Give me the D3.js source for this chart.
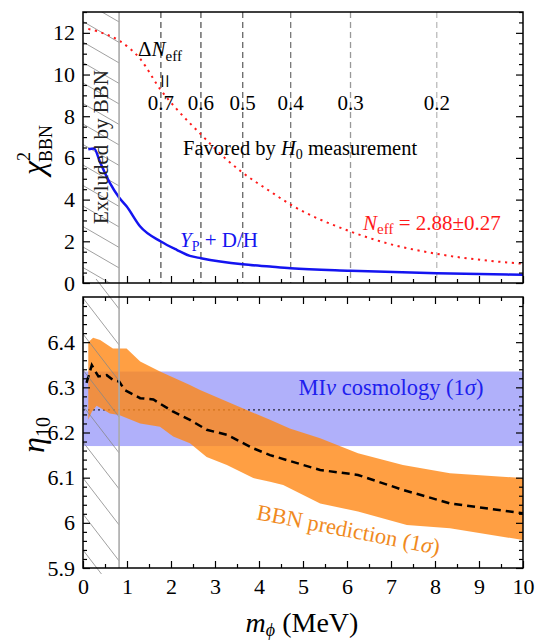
<!DOCTYPE html>
<html>
<head>
<meta charset="utf-8">
<script src="https://cdn.jsdelivr.net/npm/d3@7"></script>
<style>
  body { margin: 0; background: #fff; }
  svg text { font-family: "Liberation Serif", "DejaVu Serif", "Times New Roman", serif; }
</style>
</head>
<body>
<div id="graph"></div>
<script>
// data
var mChi = [0.12, 0.25, 0.39, 0.61, 0.82, 0.99, 1.3, 1.77, 2.13, 2.43, 2.68, 3.63, 4.25, 4.72, 6.08, 8.04, 10];
var chiYD = [6.42, 6.45, 5.78, 4.8, 4.1, 3.68, 2.71, 1.99, 1.59, 1.3, 1.19, 0.9, 0.79, 0.71, 0.59, 0.47, 0.39];

var mNeff = [0.12, 0.39, 0.82, 1.3, 1.77, 2.13, 2.68, 3.26, 3.63, 4.25, 4.72, 6.08, 6.9, 8.04, 10];
var chiNeff = [12.19, 12.03, 11.63, 10.75, 9.25, 8.34, 7.13, 5.93, 5.29, 4.4, 3.76, 2.47, 1.91, 1.4, 0.92];

var mDN = [1.77, 2.68, 3.63, 4.72, 6.08, 8.04];
var dNLabels = ["0.7", "0.6", "0.5", "0.4", "0.3", "0.2"];
var dNColors = ["#555", "#555", "#666", "#777", "#999", "#bbb"];

var mExcl = 0.82;

var mUp = [0.12, 0.23, 0.39, 0.68, 0.99, 1.3, 1.75, 2.43, 2.66, 4.25, 4.7, 5.39, 6.25, 7.27, 8.34, 10];
var etaUp = [6.40, 6.41, 6.405, 6.386, 6.386, 6.357, 6.335, 6.305, 6.294, 6.228, 6.209, 6.187, 6.154, 6.128, 6.11, 6.099];
var mLo = [0.12, 0.2, 0.31, 0.61, 0.82, 1.3, 1.75, 2.05, 2.43, 2.81, 3.27, 3.87, 4.25, 4.55, 5.39, 6.25, 7.36, 8.34, 10];
var etaLo = [6.228, 6.246, 6.259, 6.242, 6.239, 6.22, 6.213, 6.191, 6.176, 6.146, 6.128, 6.099, 6.091, 6.084, 6.043, 6.025, 5.995, 5.988, 5.962];

var mMid = [0.08, 0.2, 0.35, 0.54, 0.69, 0.82, 0.95, 1.3, 1.6, 2.05, 2.43, 2.81, 3.27, 3.87, 4.25, 5.39, 6.25, 7.27, 8.34, 10];
var etaMid = [6.31, 6.349, 6.324, 6.327, 6.316, 6.313, 6.294, 6.276, 6.273, 6.246, 6.228, 6.206, 6.195, 6.165, 6.15, 6.117, 6.106, 6.073, 6.043, 6.021];

var cosmoLo = 6.17, cosmoHi = 6.335, cosmoMid = 6.25;

var chiTicks = [0, 2, 4, 6, 8, 10, 12];
var etaTicks = [5.9, 6.0, 6.1, 6.2, 6.3, 6.4];
var mTicks = [0, 1, 2, 3, 4, 5, 6, 7, 8, 9, 10];

// layout
const width = 539;
const height = 644;
var left = 83, right = 523;
var top1 = 12, bot1 = 283;
var top2 = 297, bot2 = 568;
var serif = "'Liberation Serif', 'DejaVu Serif', serif";

var svg = d3.select("#graph").append("svg")
    .attr("width", width).attr("height", height)
    .attr("font-family", serif);

var x = d3.scaleLinear().domain([0, 10]).range([left, right]);
var y1 = d3.scaleLinear().domain([0, 13]).range([bot1, top1]);
var y2 = d3.scaleLinear().domain([5.9, 6.5]).range([bot2, top2]);

var defs = svg.append("defs");
defs.append("clipPath").attr("id", "clip1").append("rect")
    .attr("x", left).attr("y", top1).attr("width", right - left).attr("height", bot1 - top1);
defs.append("clipPath").attr("id", "clip2").append("rect")
    .attr("x", left).attr("y", top2).attr("width", right - left).attr("height", bot2 - top2);
defs.append("clipPath").attr("id", "hatch1").append("rect")
    .attr("x", left).attr("y", top1).attr("width", x(mExcl) - left).attr("height", bot1 - top1);
defs.append("clipPath").attr("id", "hatch2").append("rect")
    .attr("x", left).attr("y", 279).attr("width", x(mExcl) - left).attr("height", bot2 + 6 - 279);

// ---------- top panel ----------
var g1 = svg.append("g");

// hatching
var h1 = g1.append("g").attr("clip-path", "url(#hatch1)");
d3.range(-40, 300, 20.5).forEach(function (y0) {
    h1.append("line")
        .attr("x1", left).attr("y1", y0)
        .attr("x2", x(mExcl)).attr("y2", y0 + 0.58 * (x(mExcl) - left))
        .attr("stroke", "#888").attr("stroke-width", 0.8);
});

var p1 = g1.append("g").attr("clip-path", "url(#clip1)");

p1.selectAll(".dn")
    .data(mDN)
    .enter()
    .append("line")
    .attr("x1", function (d) { return x(d); })
    .attr("x2", function (d) { return x(d); })
    .attr("y1", top1).attr("y2", bot1)
    .attr("stroke", function (d, i) { return dNColors[i]; })
    .attr("stroke-width", 1.3)
    .attr("stroke-dasharray", "6,4");

var lineChi = d3.line()
    .x(function (d) { return x(d[0]); })
    .y(function (d) { return y1(d[1]); })
    .curve(d3.curveMonotoneX);

p1.append("path")
    .datum(d3.zip(mNeff, chiNeff))
    .attr("d", lineChi)
    .attr("fill", "none")
    .attr("stroke", "#ff1a1a")
    .attr("stroke-width", 2)
    .attr("stroke-dasharray", "2.2,4.6");

p1.append("path")
    .datum(d3.zip(mChi, chiYD))
    .attr("d", lineChi)
    .attr("fill", "none")
    .attr("stroke", "#1414f0")
    .attr("stroke-width", 2.5);

// ---------- bottom panel ----------
var g2 = svg.append("g");

var p2 = g2.append("g").attr("clip-path", "url(#clip2)");

p2.append("rect")
    .attr("x", x(0)).attr("width", x(10) - x(0))
    .attr("y", y2(cosmoHi)).attr("height", y2(cosmoLo) - y2(cosmoHi))
    .attr("fill", "#b0b0fa");

p2.append("line")
    .attr("x1", x(0)).attr("x2", x(10))
    .attr("y1", y2(cosmoMid)).attr("y2", y2(cosmoMid))
    .attr("stroke", "#000").attr("stroke-width", 1)
    .attr("stroke-dasharray", "2,3");

var lineEta = d3.line()
    .x(function (d) { return x(d[0]); })
    .y(function (d) { return y2(d[1]); });

var band = d3.zip(mUp, etaUp).concat(d3.zip(mLo, etaLo).reverse());
p2.append("path")
    .datum(band)
    .attr("d", function (d) { return lineEta(d) + "Z"; })
    .attr("fill", "rgb(255,135,20)")
    .attr("fill-opacity", 0.8);

p2.append("path")
    .datum(d3.zip(mMid, etaMid))
    .attr("d", lineEta)
    .attr("fill", "none")
    .attr("stroke", "#000")
    .attr("stroke-width", 2.5)
    .attr("stroke-dasharray", "8,5");

// hatching bottom
var h2 = svg.append("g").attr("clip-path", "url(#hatch2)");
d3.range(226, 600, 36).forEach(function (y0) {
    h2.append("line")
        .attr("x1", left).attr("y1", y0)
        .attr("x2", x(mExcl)).attr("y2", y0 + 1.3 * (x(mExcl) - left))
        .attr("stroke", "#888").attr("stroke-width", 0.8);
});

// exclusion edge
svg.append("line")
    .attr("x1", x(mExcl)).attr("x2", x(mExcl))
    .attr("y1", top1).attr("y2", bot2)
    .attr("stroke", "#aaa").attr("stroke-width", 1.6);

// ---------- axes ----------
function frame(yt, yb) {
    svg.append("rect")
        .attr("x", left).attr("y", yt)
        .attr("width", right - left).attr("height", yb - yt)
        .attr("fill", "none").attr("stroke", "#000").attr("stroke-width", 1.5);
}

function axes(ys, yt, yb, majors, minors, fmt, topPanel) {
    var ax = [];
    ax.push(svg.append("g").attr("transform", "translate(" + left + ",0)")
        .call(d3.axisLeft(ys).tickValues(majors).tickSize(-7).tickPadding(8).tickFormat(fmt)));
    ax.push(svg.append("g").attr("transform", "translate(" + left + ",0)")
        .call(d3.axisLeft(ys).tickValues(minors).tickSize(-4).tickFormat("")));
    ax.push(svg.append("g").attr("transform", "translate(" + right + ",0)")
        .call(d3.axisRight(ys).tickValues(majors).tickSize(-7).tickFormat("")));
    ax.push(svg.append("g").attr("transform", "translate(" + right + ",0)")
        .call(d3.axisRight(ys).tickValues(minors).tickSize(-4).tickFormat("")));
    ax.push(svg.append("g").attr("transform", "translate(0," + yb + ")")
        .call(d3.axisBottom(x).tickValues(mTicks).tickSize(-7).tickPadding(10)
            .tickFormat(topPanel ? "" : d3.format("d"))));
    ax.push(svg.append("g").attr("transform", "translate(0," + yb + ")")
        .call(d3.axisBottom(x).tickValues(d3.range(0.5, 10, 1)).tickSize(-4).tickFormat("")));
    if (!topPanel) {
        ax.push(svg.append("g").attr("transform", "translate(0," + yt + ")")
            .call(d3.axisTop(x).tickValues(mTicks).tickSize(-7).tickFormat("")));
        ax.push(svg.append("g").attr("transform", "translate(0," + yt + ")")
            .call(d3.axisTop(x).tickValues(d3.range(0.5, 10, 1)).tickSize(-4).tickFormat("")));
    }
    ax.forEach(function (a) {
        a.attr("font-family", serif);
        a.select(".domain").remove();
        a.selectAll("line").attr("stroke-width", 1.2);
        a.selectAll("text").attr("font-size", 22).attr("fill", "#000");
    });
}

axes(y1, top1, bot1, chiTicks, d3.range(0, 13.01, 0.5).filter(function (v) { return v % 2 !== 0; }),
    d3.format("d"), true);
axes(y2, top2, bot2, etaTicks, d3.range(5.92, 6.5, 0.02).filter(function (v) {
    return Math.abs(v * 10 - Math.round(v * 10)) > 0.01;
}), function (d) { return Math.abs(d - 6) < 1e-9 ? "6" : d3.format(".1f")(d); }, false);

frame(top1, bot1);
frame(top2, bot2);

// ---------- labels ----------
svg.append("text")
    .attr("transform", "translate(108,147) rotate(-90)")
    .attr("text-anchor", "middle")
    .attr("font-size", 21)
    .attr("fill", "#222")
    .text("Excluded  by BBN");

var dn = svg.append("text").attr("x", 138).attr("y", 56).attr("font-size", 21);
dn.append("tspan").text("Δ");
dn.append("tspan").attr("font-style", "italic").text("N");
dn.append("tspan").attr("font-size", 15).attr("dy", 5).text("eff");

svg.append("text")
    .attr("transform", "translate(156,81) rotate(90)")
    .attr("text-anchor", "middle")
    .attr("font-size", 25)
    .text("=");

svg.selectAll(".dnlab")
    .data(mDN)
    .enter()
    .append("text")
    .attr("x", function (d) { return x(d); })
    .attr("y", 110)
    .attr("text-anchor", "middle")
    .attr("font-size", 21)
    .text(function (d, i) { return dNLabels[i]; });

var fav = svg.append("text").attr("x", 183).attr("y", 155).attr("font-size", 20.5);
fav.append("tspan").text("Favored by ");
fav.append("tspan").attr("font-style", "italic").text("H");
fav.append("tspan").attr("font-size", 14).attr("dy", 4).text("0");
fav.append("tspan").attr("dy", -4).text(" measurement");

var yp = svg.append("text").attr("x", 180).attr("y", 247).attr("font-size", 21).attr("fill", "#1414f0");
yp.append("tspan").attr("font-style", "italic").text("Y");
yp.append("tspan").attr("font-size", 14).attr("dy", 4).text("P");
yp.append("tspan").attr("dy", -4).text(" + D/H");

var ne = svg.append("text").attr("x", 363).attr("y", 230).attr("font-size", 21).attr("fill", "#ff1a1a");
ne.append("tspan").attr("font-style", "italic").text("N");
ne.append("tspan").attr("font-size", 15).attr("dy", 4).text("eff");
ne.append("tspan").attr("dy", -4).text(" = 2.88±0.27");

var mi = svg.append("text").attr("x", 391).attr("y", 395).attr("text-anchor", "middle")
    .attr("font-size", 22.5).attr("fill", "#2020ee");
mi.append("tspan").text("MI");
mi.append("tspan").attr("font-style", "italic").text("ν");
mi.append("tspan").text(" cosmology (1");
mi.append("tspan").attr("font-style", "italic").text("σ");
mi.append("tspan").text(")");

var bbn = svg.append("text").attr("transform", "translate(347,537) rotate(11)")
    .attr("text-anchor", "middle").attr("font-size", 22.5).attr("fill", "#f08a1e");
bbn.append("tspan").text("BBN prediction (1");
bbn.append("tspan").attr("font-style", "italic").text("σ");
bbn.append("tspan").text(")");

var chi = svg.append("text").attr("transform", "translate(44,150) rotate(-90)")
    .attr("text-anchor", "middle").attr("font-size", 32);
chi.append("tspan").attr("font-style", "italic").text("χ");
chi.append("tspan").attr("font-size", 18).attr("dy", -14).text("2");
chi.append("tspan").attr("font-size", 18).attr("dx", -10).attr("dy", 22).text("BBN");

var eta = svg.append("text").attr("transform", "translate(44,435) rotate(-90)")
    .attr("text-anchor", "middle").attr("font-size", 32);
eta.append("tspan").attr("font-style", "italic").text("η");
eta.append("tspan").attr("font-size", 20).attr("dy", 6).text("10");

var mx = svg.append("text").attr("x", 302).attr("y", 632).attr("text-anchor", "middle").attr("font-size", 28);
mx.append("tspan").attr("font-style", "italic").text("m");
mx.append("tspan").attr("font-style", "italic").attr("font-size", 18).attr("dy", 4).text("ϕ");
mx.append("tspan").attr("dy", -4).text(" (MeV)");
</script>
</body>
</html>
